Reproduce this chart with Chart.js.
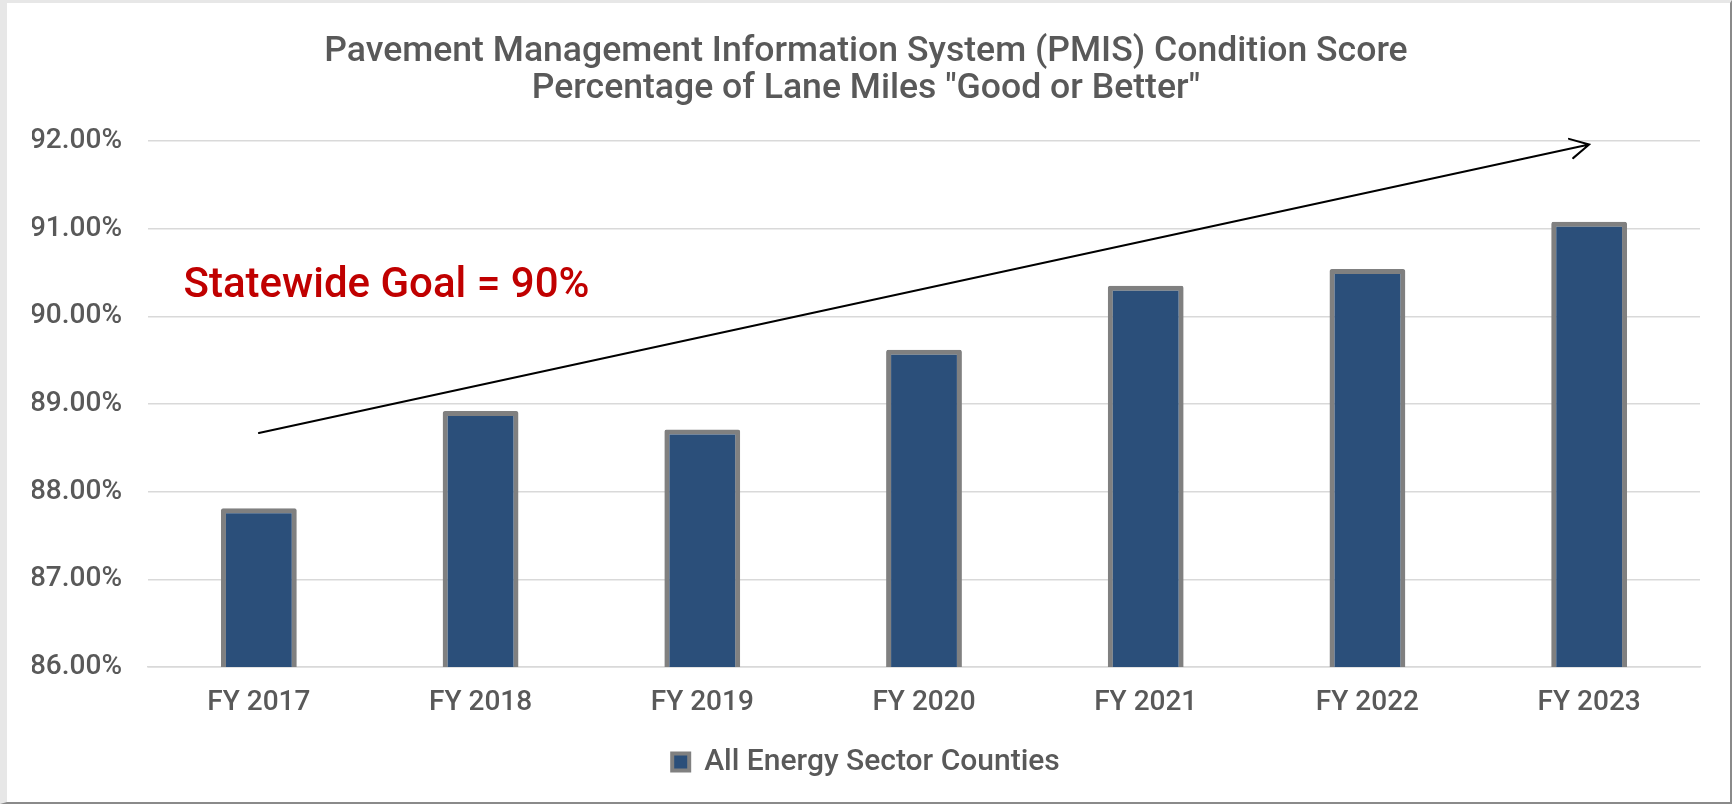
<!DOCTYPE html>
<html>
<head>
<meta charset="utf-8">
<script src="https://cdn.jsdelivr.net/npm/chart.js@4.4.1/dist/chart.umd.min.js"></script>
<style>
  body { margin: 0; background: #fff; }
  #wrap { position: relative; width: 1732px; height: 804px; }
  #frame {
    position: absolute; left: 0; top: 0; width: 1732px; height: 804px;
    box-sizing: border-box; pointer-events: none;
    border-left: 7px solid #e7e7e7; border-top: 3px solid #e7e7e7;
    border-right: 2px solid #8a8a8a; border-bottom: 2px solid #8a8a8a;
  }
  canvas { position: absolute; left: 0; top: 0; }
</style>
</head>
<body>
<div id="wrap">
  <canvas id="pmisChart" width="1732" height="804"></canvas>
  <div id="frame"></div>
</div>
<script>
const anos = ['FY 2017', 'FY 2018', 'FY 2019', 'FY 2020', 'FY 2021', 'FY 2022', 'FY 2023'];
const notas = [87.81, 88.92, 88.71, 89.62, 90.35, 90.54, 91.08];
const serieNome = 'All Energy Sector Counties';
const titulo = ['Pavement Management Information System (PMIS) Condition Score', 'Percentage of Lane Miles "Good or Better"'];
const eixoMin = 86;
const eixoMax = 92;
const meta = 'Statewide Goal = 90%';
// seta de tendencia, em unidades do grafico (indice da categoria, valor)
const setaInicio = [0, 88.67];
const setaFim = [6, 91.96];
const metaPos = [-0.34, 90.22];

const fonte = "Roboto, 'Liberation Sans', Arial, sans-serif";
const cinzaTexto = '#595959';

// --- seta e texto da meta ---
const anotacoes = {
  id: 'anotacoes',
  afterDatasetsDraw(chart) {
    const { ctx, scales: { x, y } } = chart;
    const x1 = x.getPixelForValue(setaInicio[0]);
    const y1 = y.getPixelForValue(setaInicio[1]);
    const x2 = x.getPixelForValue(setaFim[0]);
    const y2 = y.getPixelForValue(setaFim[1]);
    const ang = Math.atan2(y2 - y1, x2 - x1);
    const ponta = 21;
    const abertura = 28 * Math.PI / 180;

    ctx.save();
    ctx.strokeStyle = '#000';
    ctx.lineWidth = 2;
    ctx.lineCap = 'round';
    ctx.beginPath();
    ctx.moveTo(x1, y1);
    ctx.lineTo(x2, y2);
    ctx.moveTo(x2 - ponta * Math.cos(ang - abertura), y2 - ponta * Math.sin(ang - abertura));
    ctx.lineTo(x2, y2);
    ctx.lineTo(x2 - ponta * Math.cos(ang + abertura), y2 - ponta * Math.sin(ang + abertura));
    ctx.stroke();

    ctx.fillStyle = '#C00000';
    ctx.font = '500 42px ' + fonte;
    ctx.textAlign = 'left';
    ctx.textBaseline = 'alphabetic';
    ctx.fillText(meta, x.getPixelForValue(metaPos[0]), y.getPixelForValue(metaPos[1]));
    ctx.restore();
  }
};

const ctx = document.getElementById('pmisChart').getContext('2d');

const pmisChart = new Chart(ctx, {
  type: 'bar',
  data: {
    labels: anos,
    datasets: [{
      label: serieNome,
      data: notas,
      backgroundColor: '#2B4F7A',
      borderColor: '#808080',
      borderWidth: 5,
      borderSkipped: false,
      borderRadius: 2,
      categoryPercentage: 1,
      barPercentage: 0.342
    }]
  },
  options: {
    responsive: false,
    animation: false,
    layout: {
      padding: { left: 32, right: 32, top: 0, bottom: 17 }
    },
    plugins: {
      title: {
        display: true,
        text: titulo,
        color: cinzaTexto,
        font: { family: fonte, size: 35.6, weight: '500', lineHeight: 1.04 },
        padding: { top: 34, bottom: 33 }
      },
      legend: {
        position: 'bottom',
        labels: {
          color: cinzaTexto,
          font: { family: fonte, size: 30, weight: '500' },
          boxWidth: 17,
          boxHeight: 17,
          padding: 10,
          generateLabels(chart) {
            const itens = Chart.defaults.plugins.legend.labels.generateLabels(chart);
            itens.forEach(item => { item.lineWidth = 4; });
            return itens;
          }
        }
      },
      tooltip: { enabled: false }
    },
    scales: {
      y: {
        min: eixoMin,
        max: eixoMax,
        afterFit(scale) { scale.width = 116; },
        border: { display: false },
        grid: { color: '#d9d9d9', lineWidth: 1.5, drawTicks: false },
        ticks: {
          stepSize: 1,
          padding: 26,
          color: cinzaTexto,
          font: { family: fonte, size: 28, weight: '500' },
          callback: v => v.toFixed(2) + '%'
        }
      },
      x: {
        afterFit(scale) { scale.height = 70; },
        border: { display: true, color: '#d9d9d9', width: 1.5 },
        grid: { display: false, drawTicks: false },
        ticks: {
          padding: 19,
          color: cinzaTexto,
          font: { family: fonte, size: 28, weight: '500' }
        }
      }
    }
  },
  plugins: [anotacoes]
});
</script>
</body>
</html>
